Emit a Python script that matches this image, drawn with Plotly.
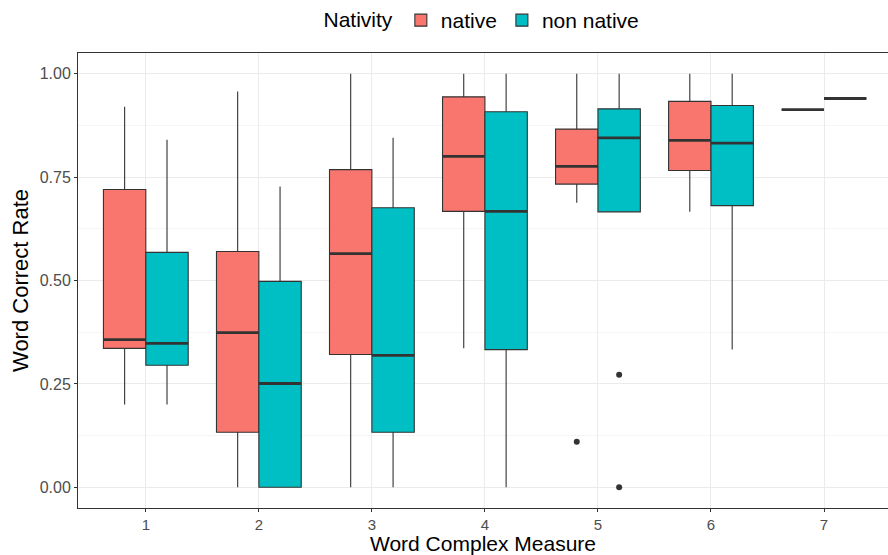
import plotly.graph_objects as go

categories = [1, 2, 3, 4, 5, 6, 7]
tick_labels = ["1", "2", "3", "4", "5", "6", "7"]

native_lower = [0.200, 0.000, 0.000, 0.336, 0.688, 0.666, 0.913]
native_q1 = [0.336, 0.133, 0.321, 0.667, 0.733, 0.766, 0.913]
native_median = [0.357, 0.374, 0.565, 0.800, 0.776, 0.839, 0.913]
native_q3 = [0.720, 0.570, 0.768, 0.944, 0.866, 0.933, 0.913]
native_upper = [0.920, 0.957, 1.000, 1.000, 1.000, 1.000, 0.913]
native_out_x = [5]
native_out_y = [0.110]

non_lower = [0.200, 0.000, 0.000, 0.000, 0.666, 0.333, 0.940]
non_q1 = [0.295, 0.000, 0.133, 0.333, 0.666, 0.681, 0.940]
non_median = [0.348, 0.251, 0.319, 0.667, 0.845, 0.832, 0.940]
non_q3 = [0.568, 0.498, 0.676, 0.908, 0.915, 0.923, 0.940]
non_upper = [0.840, 0.727, 0.845, 1.000, 1.000, 1.000, 0.940]
non_out_x = [5, 5]
non_out_y = [0.272, 0.000]

NATIVE = "#F8766D"
NON = "#00BFC4"
DARK = "#333333"
GROUP_W = 0.75
BOX_W = GROUP_W / 2

fig = go.Figure()

series = [
    ("native", NATIVE, native_lower, native_q1, native_median, native_q3, native_upper, native_out_x, native_out_y, -BOX_W / 2),
    ("non native", NON, non_lower, non_q1, non_median, non_q3, non_upper, non_out_x, non_out_y, BOX_W / 2),
]

for name, col, lo, q1, med, q3, up, ox, oy, off in series:
    fig.add_trace(go.Box(
        name=name, x=categories, lowerfence=lo, q1=q1, median=med, q3=q3, upperfence=up,
        fillcolor=col, line=dict(color=DARK, width=1.1), boxpoints=False, whiskerwidth=0,
        offsetgroup=name, legendgroup=name, showlegend=True,
    ))

for name, col, lo, q1, med, q3, up, ox, oy, off in series:
    mx, my = [], []
    for c, m in zip(categories, med):
        mx += [c + off - BOX_W / 2, c + off + BOX_W / 2, None]
        my += [m, m, None]
    fig.add_trace(go.Scatter(x=mx, y=my, mode="lines", line=dict(color=DARK, width=2.8),
                             showlegend=False, hoverinfo="skip"))
    fig.add_trace(go.Scatter(x=[c + off for c in ox], y=oy, mode="markers",
                             marker=dict(color=DARK, size=6), showlegend=False))

fig.update_layout(
    boxmode="group", boxgap=1 - GROUP_W, boxgroupgap=0,
    width=888, height=555,
    margin=dict(l=78, r=0, t=53, b=47),
    paper_bgcolor="white", plot_bgcolor="white",
    font=dict(family="Liberation Sans, Arial, sans-serif", color="black"),
    legend=dict(orientation="h", x=0.5, xanchor="center", y=1.0, yanchor="top",
                yref="container", font=dict(size=21, color="black"),
                title=dict(text="Nativity", font=dict(size=21)),
                itemwidth=30, tracegroupgap=0),
    showlegend=True,
)

fig.update_xaxes(
    range=[0.4, 7.566], tickvals=categories, ticktext=tick_labels,
    showline=True, linecolor=DARK, linewidth=1, mirror=True,
    showgrid=True, gridcolor="#EBEBEB", gridwidth=1,
    ticks="outside", ticklen=3, tickcolor=DARK,
    tickfont=dict(size=15, color="#4D4D4D"),
    title=dict(text="Word Complex Measure", font=dict(size=21, color="black"), standoff=3),
    zeroline=False,
)
fig.update_yaxes(
    range=[-0.05, 1.05], tickvals=[0, 0.25, 0.5, 0.75, 1.0],
    ticktext=["0.00", "0.25", "0.50", "0.75", "1.00"],
    showline=True, linecolor=DARK, linewidth=1, mirror=True,
    showgrid=True, gridcolor="#EBEBEB", gridwidth=1,
    minor=dict(tickvals=[0.125, 0.375, 0.625, 0.875], showgrid=True, gridcolor="#F5F5F5", gridwidth=1),
    ticks="outside", ticklen=3, tickcolor=DARK,
    tickfont=dict(size=16, color="#4D4D4D"),
    title=dict(text="Word Correct Rate", font=dict(size=22, color="black"), standoff=4),
    zeroline=False,
)

fig.write_html("out.html")
